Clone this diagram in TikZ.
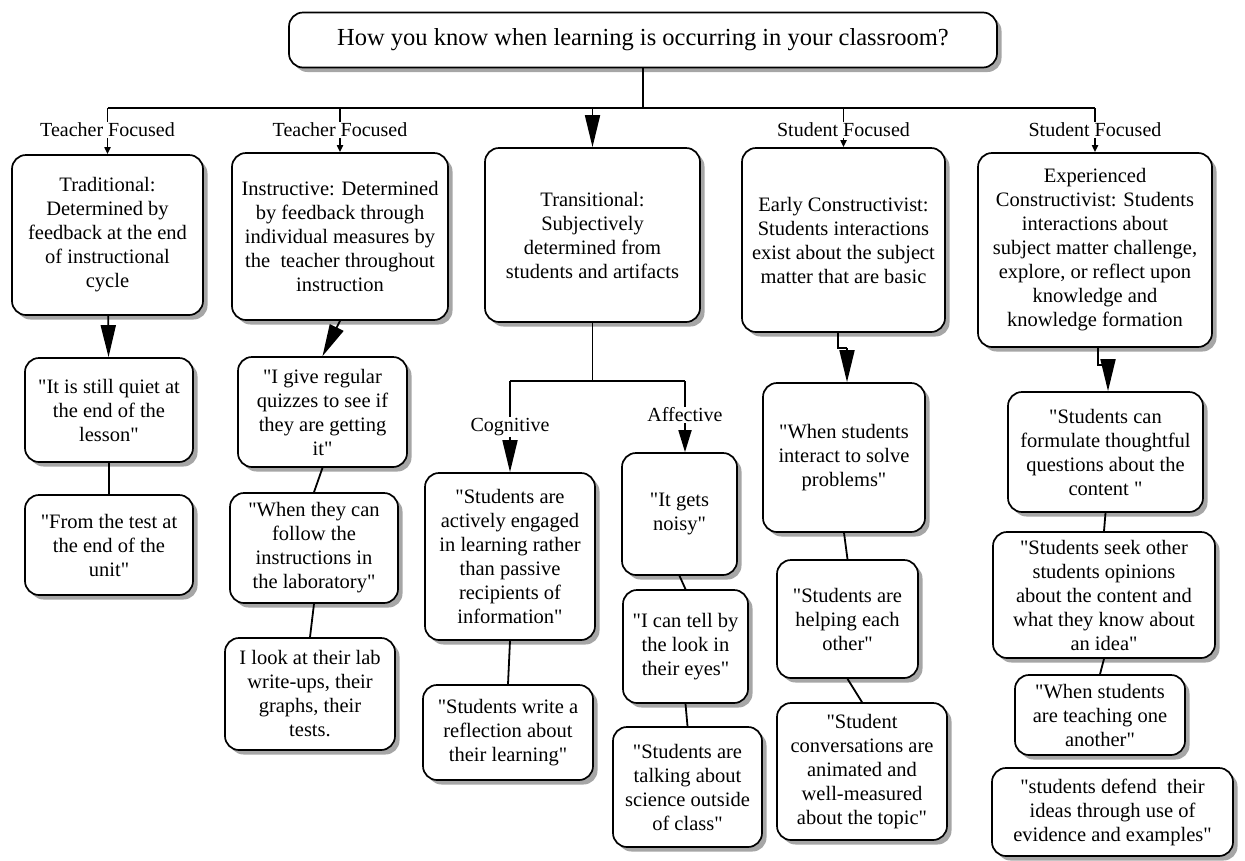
\documentclass[tikz,border=0pt]{standalone}
\usepackage{fontspec}
\setmainfont{Liberation Serif}[Ligatures=TeXOff]
\usetikzlibrary{shadows,arrows.meta}

\newcommand\boxfont{\fontsize{20.5}{24}\selectfont}
\newcommand\tagfont{\fontsize{20}{24}\selectfont}
\newcommand\titlefont{\fontsize{24.5}{28}\selectfont}
% mkcard{name}{x1}{y1}{x2}{y2}{text}: rounded box given by its corners
\newcommand\mkcard[6]{\node[card, minimum width={#4-#2}, minimum height={#5-#3}] (#1) at ({(#2+#4)/2},{(#3+#5)/2}) {#6};}

\tikzset{
  card/.style={draw=black, line width=1.7pt, rounded corners=14pt, fill=white,
    align=center, font=\boxfont, inner sep=2pt,
    drop shadow={shadow xshift=4.5pt, shadow yshift=-4.5pt, fill=gray!70, opacity=1}},
  tag/.style={font=\tagfont, inner sep=1pt},
  link/.style={line width=1.8pt},
  slimlink/.style={line width=1.2pt},
  bigarrow/.style={line width=1.8pt, -{Triangle[length=32pt,width=15pt]}},
  midarrow/.style={line width=1.8pt, -{Triangle[length=22pt,width=13pt]}},
  tickarrow/.style={line width=1.8pt, -{Triangle[length=7pt,width=6pt]}},
}

\begin{document}
\begin{tikzpicture}[x=1pt, y=-1pt]
\useasboundingbox (0,0) rectangle (1245,860);

% question at the top
\node[card, font=\titlefont, minimum width=708, minimum height=55] (top) at (643,40)
  {How you know when learning is occurring in your classroom?};

% five approaches
\mkcard{b1}{12}{155}{203}{315}{Traditional:\\Determined by\\feedback at the end\\of instructional\\cycle}
\mkcard{b2}{232}{153}{448}{320}{Instructive: Determined\\by feedback through\\individual measures by\\the\ \ teacher throughout\\instruction}
\mkcard{b3}{485}{148}{700}{322}{Transitional:\\Subjectively\\determined from\\students and artifacts}
\mkcard{b4}{742}{148}{945}{332}{Early Constructivist:\\Students interactions\\exist about the subject\\matter that are basic}
\mkcard{b5}{978}{153}{1212}{347}{Experienced\\Constructivist: Students\\interactions about\\subject matter challenge,\\explore, or reflect upon\\knowledge and\\knowledge formation}

% focus labels
\node[tag] (l1) at (107.5,130) {Teacher Focused};
\node[tag] (l2) at (340,130) {Teacher Focused};
\node[tag] (l4) at (843.5,130) {Student Focused};
\node[tag] (l5) at (1095,130) {Student Focused};

% traditional column
\mkcard{q1}{25}{358}{193}{462}{"It is still quiet at\\the end of the\\lesson"}
\mkcard{q2}{25}{495}{193}{595}{"From the test at\\the end of the\\unit"}

% instructive column
\mkcard{i1}{238}{357}{407}{467}{"I give regular\\quizzes to see if\\they are getting\\it"}
\mkcard{i2}{230}{493}{398}{603}{"When they can\\follow the\\instructions in\\the laboratory"}
\mkcard{i3}{225}{638}{395}{750}{I look at their lab\\write-ups, their\\graphs, their\\tests.}

% transitional column
\node[tag] (cog) at (510,427) {Cognitive};
\node[tag] (aff) at (685,415) {Affective};
\mkcard{c1}{425}{473}{595}{640}{"Students are\\actively engaged\\in learning rather\\than passive\\recipients of\\information"}
\mkcard{c2}{423}{685}{593}{780}{"Students write a\\reflection about\\their learning"}
\mkcard{a1}{622}{453}{737}{575}{"It gets\\noisy"}
\mkcard{a2}{623}{590}{748}{703}{"I can tell by\\the look in\\their eyes"}
\mkcard{a3}{613}{727}{762}{847}{"Students are\\talking about\\science outside\\of class"}

% early constructivist column
\mkcard{e1}{763}{383}{925}{532}{"When students\\interact to solve\\problems"}
\mkcard{e2}{777}{560}{918}{678}{"Students are\\helping each\\other"}
\mkcard{e3}{777}{703}{947}{840}{"Student\\conversations are\\animated and\\well-measured\\about the topic"}

% experienced constructivist column
\mkcard{x1}{1008}{392}{1203}{512}{"Students can\\formulate thoughtful\\questions about the\\content "}
\mkcard{x2}{993}{532}{1215}{658}{"Students seek other\\students opinions\\about the content and\\what they know about\\an idea"}
\mkcard{x3}{1015}{675}{1185}{755}{"When students\\are teaching one\\another"}
\mkcard{x4}{992}{768}{1233}{856}{"students defend\ \ their\\ideas through use of\\evidence and examples"}

% branching from the question
\coordinate (bus) at (0,108);
\draw[link] (top.south) -- (top.south |- bus);
\draw[link] (l1.north |- bus) -- (l5.north |- bus);
\foreach \t in {l1,l2,l4,l5} \draw[link] (\t.north |- bus) -- (\t.north);
\draw[bigarrow] (b3.north |- bus) -- (b3.north);
\draw[tickarrow] (l1.south) -- (b1.north);
\draw[tickarrow] (l2.south) -- (b2.north);
\draw[tickarrow] (l4.south) -- (b4.north);
\draw[tickarrow] (l5.south) -- (b5.north);

% traditional links
\draw[bigarrow] (b1) -- (q1);
\draw[link] (q1) -- (q2);

% instructive links
\draw[bigarrow] (b2.south) -- (i1.north);
\draw[link] (i1.south) -- (i2.north);
\draw[link] (i2.south) -- (i3.north);

% transitional links
\coordinate (split) at (0,381);
\draw[link] (b3.south) -- (b3.south |- split);
\draw[link] (cog.north |- split) -- (aff.north |- split);
\draw[link] (cog.north |- split) -- (cog.north);
\draw[link] (aff.north |- split) -- (aff.north);
\draw[bigarrow] (cog.south) -- (c1.north);
\draw[midarrow] (aff.south) -- (aff.south |- a1.north);
\draw[link] (c1.south) -- (c2.north);
\draw[link] (a1.south) -- (a2.north);
\draw[link] (a2.south) -- (a3.north);

% early constructivist links
\coordinate (ebend) at (838,348);
\draw[slimlink] (b4.south -| ebend) -- (ebend) -- ++(9,0) coordinate (etip);
\draw[bigarrow] (etip) -- (etip |- e1.north);
\draw[link] (e1.south) -- (e2.north);
\draw[link] (e2.south) -- (e3.north);

% experienced constructivist links
\coordinate (xbend) at (1098,365);
\draw[slimlink] (b5.south -| xbend) -- (xbend) -- ++(10,0) coordinate (xtip);
\draw[bigarrow] (xtip) -- (xtip |- x1.north);
\draw[link] (x1.south) -- (x2.north);
\draw[link] (x2.south) -- (x3.north);
\end{tikzpicture}
\end{document}
